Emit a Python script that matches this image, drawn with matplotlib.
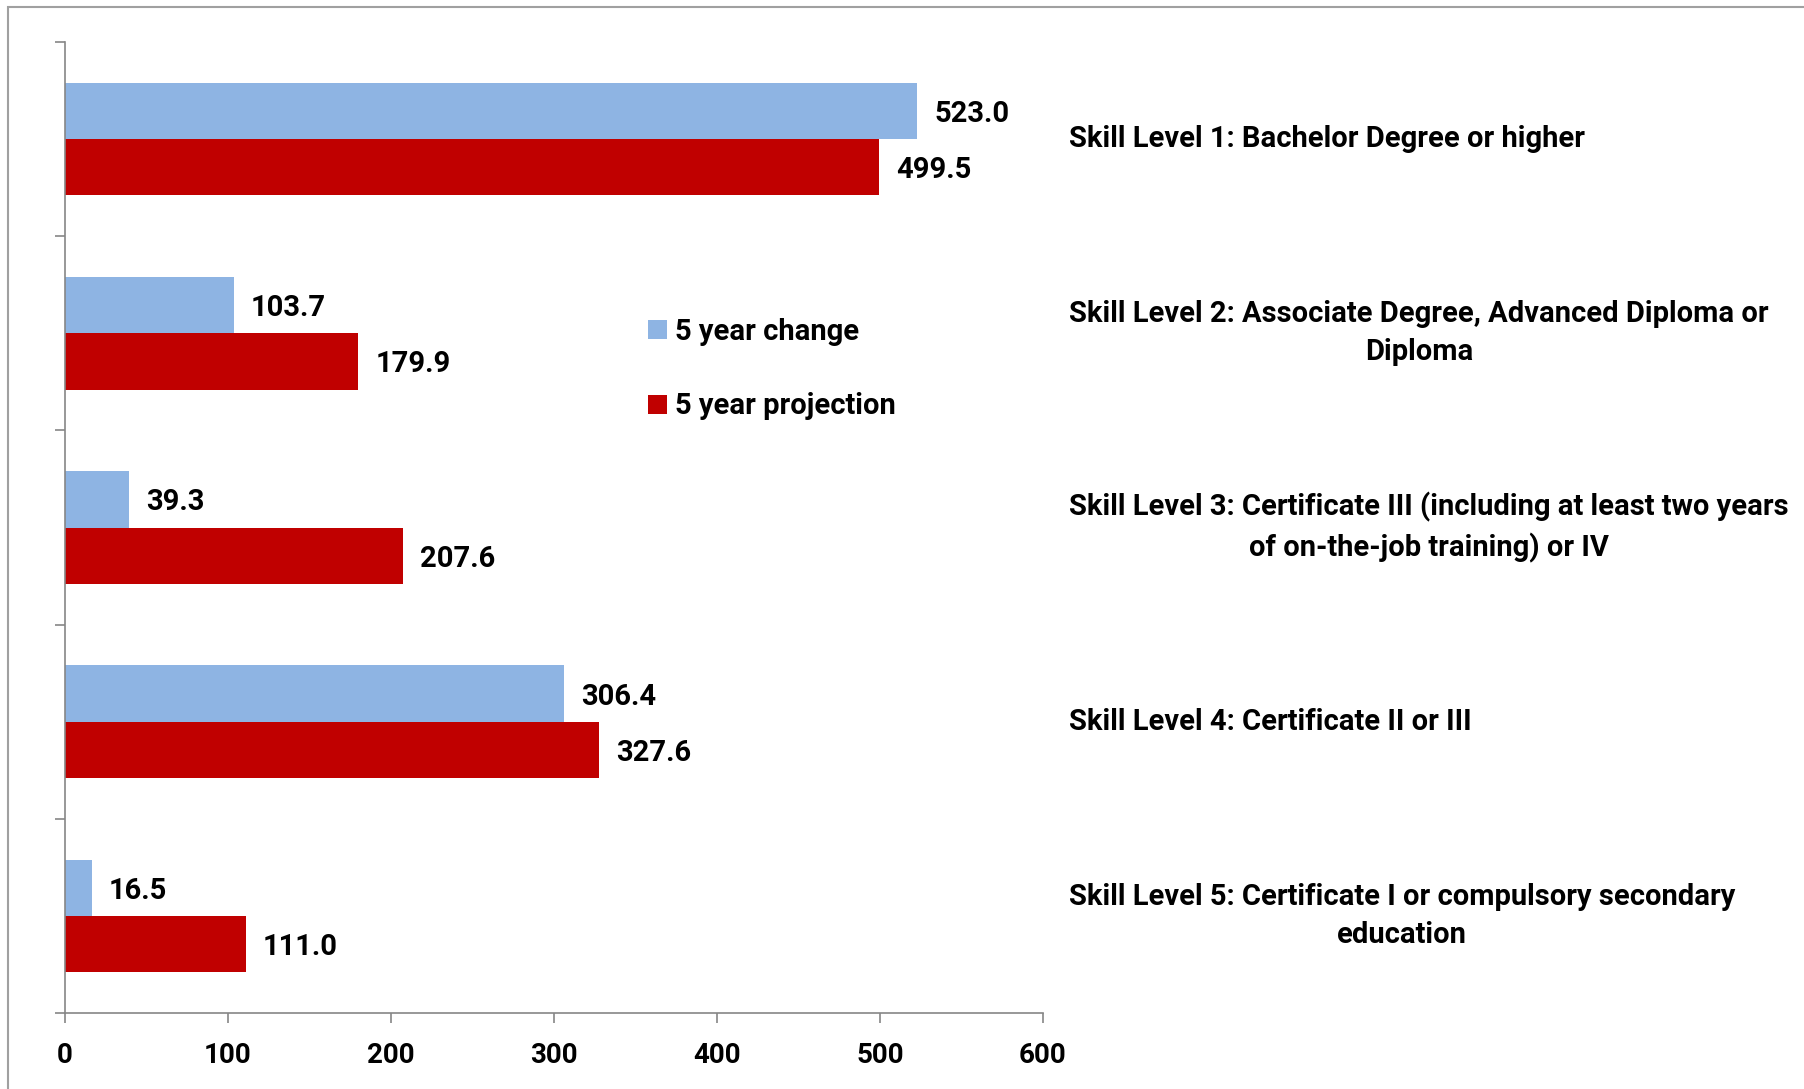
import numpy as np
import matplotlib
matplotlib.use("Agg")
from matplotlib import pyplot as plt
from matplotlib.patches import Rectangle
from matplotlib.transforms import blended_transform_factory

levels = ["Skill Level 1: Bachelor Degree or higher",
          "Skill Level 2: Associate Degree, Advanced Diploma or\nDiploma",
          "Skill Level 3: Certificate III (including at least two years\nof on-the-job training) or IV",
          "Skill Level 4: Certificate II or III",
          "Skill Level 5: Certificate I or compulsory secondary\neducation"]
change = [523.0, 103.7, 39.3, 306.4, 16.5]
projection = [499.5, 179.9, 207.6, 327.6, 111.0]
xticks = [0, 100, 200, 300, 400, 500, 600]

blue = "#8EB4E3"
red = "#C00000"
grey = "#868686"
font = ["Roboto", "DejaVu Sans"]

fig = plt.figure(figsize=(18.04, 10.89), dpi=100)
ax = fig.add_axes([65/1804, 1-1013/1089, (1043-65)/1804, (1013-42)/1089])

y = np.arange(len(levels))
h = 0.29
ax.barh(y - h/2, change, height=h, color=blue, label="5 year change")
ax.barh(y + h/2, projection, height=h, color=red, label="5 year projection")

# value labels, nudged a little right and down like the original
for i in range(len(levels)):
    ax.annotate("%.1f" % change[i], (change[i], y[i] - h/2), xytext=(17, -3),
                textcoords="offset pixels", va="center", ha="left",
                fontsize=21, fontweight="bold", family=font)
    ax.annotate("%.1f" % projection[i], (projection[i], y[i] + h/2), xytext=(17, -3),
                textcoords="offset pixels", va="center", ha="left",
                fontsize=21, fontweight="bold", family=font)

trans = blended_transform_factory(fig.transFigure, ax.transData)
for i, lab in enumerate(levels):
    ax.text(1069/1804, y[i], lab, transform=trans, ha="left", va="center",
            multialignment="center", fontsize=21, fontweight="bold", family=font,
            linespacing=1.45, clip_on=False)

ax.set_xlim(0, 600)
ax.set_ylim(len(levels) - 0.5, -0.5)
ax.set_xticks(xticks)
ax.set_yticks(np.arange(-0.5, len(levels), 1.0))
ax.set_yticklabels([])
ax.tick_params(axis="both", direction="out", length=7, width=1.2, color=grey)
ax.tick_params(axis="x", pad=14)
ax.set_xticklabels([str(t) for t in xticks])
for lab in ax.get_xticklabels():
    lab.set_fontsize(20)
    lab.set_fontweight("bold")
    lab.set_family(font)
for s in ["top", "right"]:
    ax.spines[s].set_visible(False)
for s in ["left", "bottom"]:
    ax.spines[s].set_color(grey)
    ax.spines[s].set_linewidth(1.2)

fig.legend(loc="center left", bbox_to_anchor=(622/1804, 1-369/1089), frameon=False,
           handlelength=0.63, handleheight=0.63, handletextpad=0.3, labelspacing=1.6,
           prop={"family": font, "weight": "bold", "size": 21})

# outer frame
fig.patches.append(Rectangle((8/1804, -0.1), 1.2, 1.1 - 7/1089, transform=fig.transFigure,
                             fill=False, edgecolor="#A0A0A0", linewidth=1.5))

plt.savefig("out.png", dpi=100)
